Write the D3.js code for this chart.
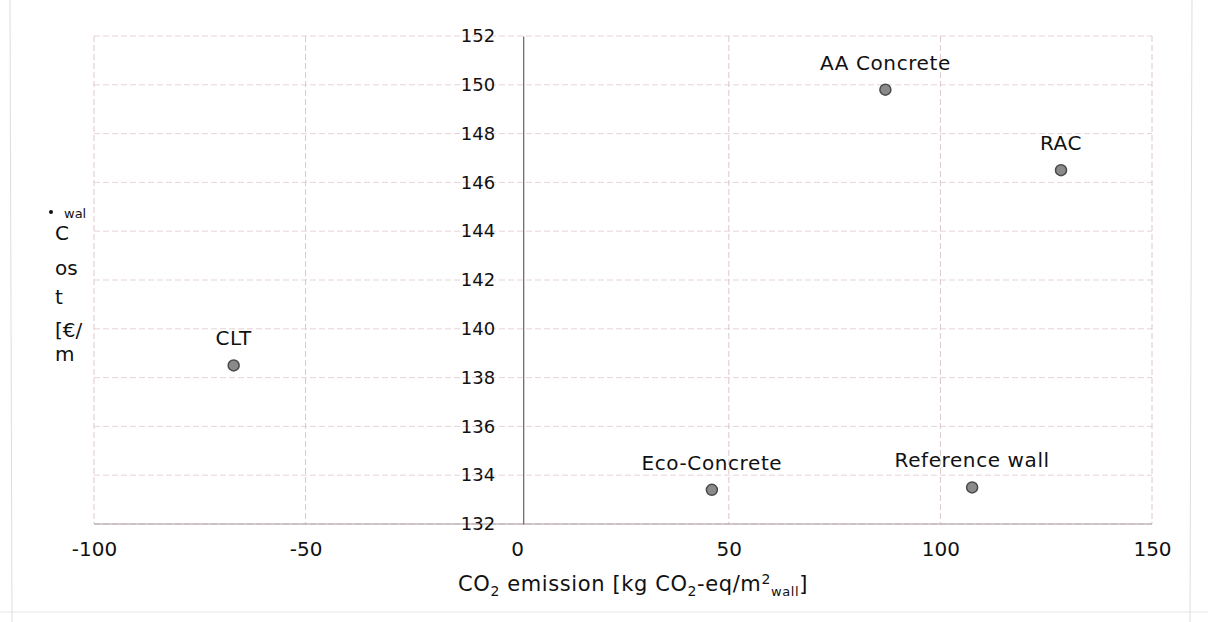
<!DOCTYPE html>
<html>
<head>
<meta charset="utf-8">
<script src="https://cdn.jsdelivr.net/npm/d3@7"></script>
<style>
  html, body { margin: 0; padding: 0; background: #ffffff; }
  svg { display: block; font-family: "DejaVu Sans", "Liberation Sans", Arial, sans-serif; }
</style>
</head>
<body>
<svg id="chart" width="1208" height="622"></svg>
<script>
// ---- data ----
const materials = ["CLT", "AA Concrete", "RAC", "Eco-Concrete", "Reference wall"];
const co2Values = [-67, 87, 128.5, 46, 107.5];
const costValues = [138.5, 149.8, 146.5, 133.4, 133.5];
const xTicks = [-100, -50, 0, 50, 100, 150];
const yTicks = [132, 134, 136, 138, 140, 142, 144, 146, 148, 150, 152];
const yLabelLines = ["C", "os", "t", "[€/", "m"];

const FONT = "DejaVu Sans, Liberation Sans, Arial, sans-serif";

// ---- scales ----
const svg = d3.select("#chart");
const x = d3.scaleLinear().domain([-100, 150]).range([94, 1152]);
const y = d3.scaleLinear().domain([132, 152]).range([524, 36]);

// faint scan page borders
svg.append("line").attr("x1", 10).attr("x2", 12).attr("y1", 0).attr("y2", 622)
  .attr("stroke", "#ddd").attr("stroke-width", 1);
svg.append("line").attr("x1", 1192).attr("x2", 1190).attr("y1", 0).attr("y2", 622)
  .attr("stroke", "#ddd").attr("stroke-width", 1);
svg.append("line").attr("x1", 0).attr("x2", 1208).attr("y1", 612).attr("y2", 612)
  .attr("stroke", "#e6e6e6").attr("stroke-width", 1);

// horizontal gridlines
svg.append("g").selectAll("line").data(yTicks).join("line")
  .attr("x1", x(-100)).attr("x2", x(150))
  .attr("y1", d => y(d)).attr("y2", d => y(d))
  .attr("stroke", "#e6d3d7").attr("stroke-width", 1)
  .attr("stroke-dasharray", "6,3");

// vertical gridlines
svg.append("g").selectAll("line").data(xTicks.filter(d => d !== 0)).join("line")
  .attr("x1", d => x(d)).attr("x2", d => x(d))
  .attr("y1", y(152)).attr("y2", y(132))
  .attr("stroke", "#dcc6cb").attr("stroke-width", 1)
  .attr("stroke-dasharray", "6,3");

// bottom axis line
svg.append("line").attr("x1", x(-100)).attr("x2", x(150))
  .attr("y1", y(132)).attr("y2", y(132))
  .attr("stroke", "#a89a9c").attr("stroke-width", 1.2);

// y axis at x = 0
const yAxis = d3.axisLeft(y).tickValues(yTicks).tickSize(0).tickPadding(28);
const gy = svg.append("g").attr("transform", `translate(${x(0) + 6},0)`).call(yAxis);
gy.select(".domain").attr("stroke", "#6e5f60").attr("stroke-width", 1.2);
gy.selectAll("text").attr("font-size", 18).attr("fill", "#111")
  .attr("font-family", FONT);

// x axis tick labels
const xAxis = d3.axisBottom(x).tickValues(xTicks).tickSize(0).tickPadding(14)
  .tickFormat(d => d < 0 ? "-" + Math.abs(d) : String(d));
const gx = svg.append("g").attr("transform", `translate(0,${y(132) + 4})`).call(xAxis);
gx.select(".domain").remove();
gx.selectAll("text").attr("font-size", 20).attr("fill", "#111")
  .attr("font-family", FONT);

// x axis title
const xt = svg.append("text").attr("x", 633).attr("y", 591)
  .attr("text-anchor", "middle").attr("font-size", 21).attr("letter-spacing", 0.6)
  .attr("fill", "#111");
xt.append("tspan").text("CO");
xt.append("tspan").text("2").attr("font-size", 14).attr("dy", 5);
xt.append("tspan").text(" emission [kg CO").attr("dy", -5);
xt.append("tspan").text("2").attr("font-size", 14).attr("dy", 5);
xt.append("tspan").text("-eq/m").attr("dy", -5);
xt.append("tspan").text("2").attr("font-size", 14).attr("dy", -7);
xt.append("tspan").text("wall").attr("font-size", 13).attr("dy", 12);
xt.append("tspan").text("]").attr("dy", -5);

// y axis title (wrapped, as in the scan)
svg.append("text").attr("x", 64).attr("y", 218).attr("font-size", 13)
  .attr("fill", "#111").text("wal");
svg.append("circle").attr("cx", 51).attr("cy", 212).attr("r", 2).attr("fill", "#111");
const yBase = [240, 275, 304, 337, 361];
svg.append("g").selectAll("text").data(yLabelLines).join("text")
  .attr("x", 55).attr("y", (d, i) => yBase[i])
  .attr("font-size", 20).attr("fill", "#111").text(d => d);

// points
svg.append("g").selectAll("circle").data(materials).join("circle")
  .attr("cx", (d, i) => x(co2Values[i]))
  .attr("cy", (d, i) => y(costValues[i]))
  .attr("r", 5.5)
  .attr("fill", "#8a8a8a").attr("stroke", "#4a4a4a").attr("stroke-width", 1.5);

// point labels
svg.append("g").selectAll("text").data(materials).join("text")
  .attr("x", (d, i) => x(co2Values[i]))
  .attr("y", (d, i) => y(costValues[i]) - 20)
  .attr("text-anchor", "middle").attr("font-size", 20).attr("letter-spacing", 0.6)
  .attr("fill", "#111")
  .attr("font-family", FONT)
  .text(d => d);
</script>
</body>
</html>
